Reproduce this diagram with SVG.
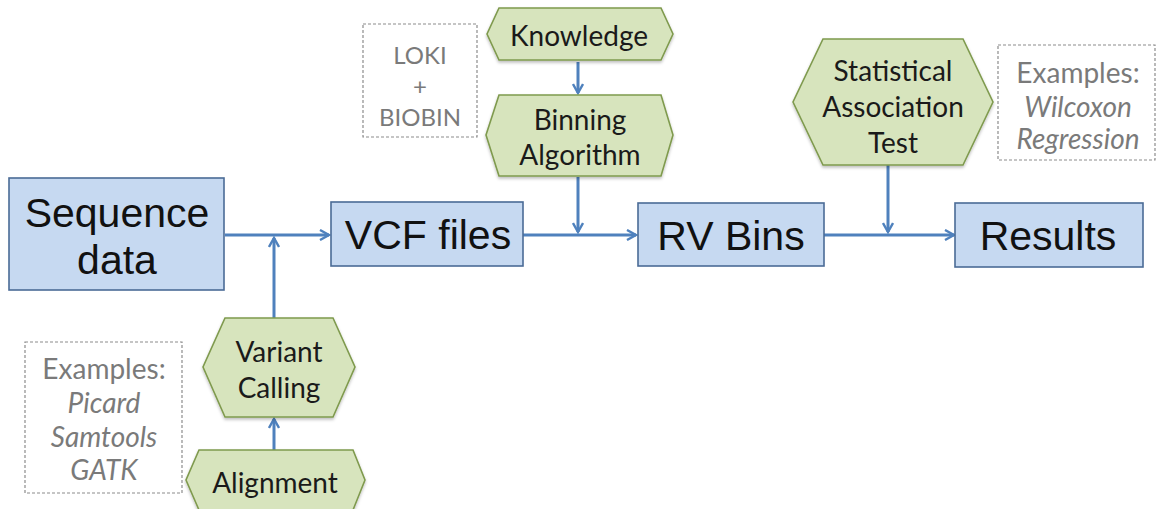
<svg xmlns="http://www.w3.org/2000/svg" width="1158" height="509" viewBox="0 0 1158 509">
  <style>
    .box { fill: #c6d9f1; stroke: #4a6b96; stroke-width: 1.6; }
    .hex { fill: #d7e4bd; stroke: #7f9a4e; stroke-width: 1.6; filter: url(#shadow); }
    .note { fill: #ffffff; stroke: #8c8c8c; stroke-width: 1.2; stroke-dasharray: 3 2; }
    .big { font-family: "Liberation Sans", Arial, sans-serif; font-size: 41px; fill: #111; text-anchor: middle; }
    .lbl { font-family: Lato, "Open Sans", sans-serif; font-size: 28px; fill: #1a1a1a; text-anchor: middle; }
    .ex { font-family: Lato, "Open Sans", sans-serif; font-size: 28px; fill: #7a7a7a; text-anchor: middle; }
    .loki { font-size: 24px; }
    .exi { font-style: italic; }
    .conn { stroke: #4f81bd; stroke-width: 3; fill: none; marker-end: url(#arrow); }
  </style>
  <defs>
    <marker id="arrow" viewBox="0 0 12 12" refX="10" refY="6" markerWidth="12" markerHeight="12" markerUnits="userSpaceOnUse" orient="auto">
      <path d="M1,1 L10,6 L1,11" fill="none" stroke="#4f81bd" stroke-width="2.4" stroke-linejoin="miter"/>
    </marker>
    <filter id="shadow" x="-10%" y="-10%" width="120%" height="130%">
      <feDropShadow dx="0" dy="2" stdDeviation="1.5" flood-color="#000" flood-opacity="0.25"/>
    </filter>
  </defs>

  <!-- connectors -->
  <g id="connectors">
    <path class="conn" d="M225,235 L329,235"/>
    <path class="conn" d="M274,318 L274,238"/>
    <path class="conn" d="M274,450 L274,419"/>
    <path class="conn" d="M523,235 L636,235"/>
    <path class="conn" d="M578,62 L578,93"/>
    <path class="conn" d="M578,177 L578,232"/>
    <path class="conn" d="M824,235 L954,235"/>
    <path class="conn" d="M888,165 L888,232"/>
  </g>

  <!-- process boxes -->
  <g id="sequence-data">
    <rect class="box" x="9" y="178" width="215" height="112"/>
    <text class="big" x="117" y="227">Sequence</text>
    <text class="big" x="117" y="274">data</text>
  </g>
  <g id="vcf-files">
    <rect class="box" x="331" y="202" width="192" height="64"/>
    <text class="big" x="428" y="249">VCF files</text>
  </g>
  <g id="rv-bins">
    <rect class="box" x="638" y="203" width="186" height="63"/>
    <text class="big" x="731" y="250">RV Bins</text>
  </g>
  <g id="results">
    <rect class="box" x="955" y="203" width="188" height="64"/>
    <text class="big" x="1048" y="250">Results</text>
  </g>

  <!-- tool / method hexagons -->
  <g id="knowledge">
    <polygon class="hex" points="499,8 661,8 673,34 661,60 499,60 487,34"/>
    <text class="lbl" x="579" y="46">Knowledge</text>
  </g>
  <g id="binning-algorithm">
    <polygon class="hex" points="499,95 661,95 673,135 661,176 499,176 486,135"/>
    <text class="lbl" x="580" y="130">Binning</text>
    <text class="lbl" x="580" y="165">Algorithm</text>
  </g>
  <g id="statistical-association-test">
    <polygon class="hex" points="823,39 963,39 993,102 963,165 823,165 793,102"/>
    <text class="lbl" x="893" y="81">Statistical</text>
    <text class="lbl" x="893" y="117">Association</text>
    <text class="lbl" x="893" y="153">Test</text>
  </g>
  <g id="variant-calling">
    <polygon class="hex" points="225,318 333,318 355,367 333,417 225,417 203,367"/>
    <text class="lbl" x="279" y="362">Variant</text>
    <text class="lbl" x="279" y="398">Calling</text>
  </g>
  <g id="alignment">
    <polygon class="hex" points="199,450 353,450 365,480 353,510 199,510 186,480"/>
    <text class="lbl" x="275" y="493">Alignment</text>
  </g>

  <!-- annotation notes -->
  <g id="loki-biobin">
    <rect class="note" x="363" y="24" width="114" height="113"/>
    <text class="ex loki" x="420" y="64">LOKI</text>
    <text class="ex loki" x="420" y="95">+</text>
    <text class="ex loki" x="420" y="126">BIOBIN</text>
  </g>
  <g id="stat-examples">
    <rect class="note" x="998" y="45" width="157" height="115"/>
    <text class="ex" x="1078" y="83">Examples:</text>
    <text class="ex exi" x="1078" y="117">Wilcoxon</text>
    <text class="ex exi" x="1078" y="149">Regression</text>
  </g>
  <g id="align-examples">
    <rect class="note" x="25" y="342" width="157" height="151"/>
    <text class="ex" x="104" y="379">Examples:</text>
    <text class="ex exi" x="104" y="413">Picard</text>
    <text class="ex exi" x="104" y="447">Samtools</text>
    <text class="ex exi" x="104" y="480">GATK</text>
  </g>
</svg>
